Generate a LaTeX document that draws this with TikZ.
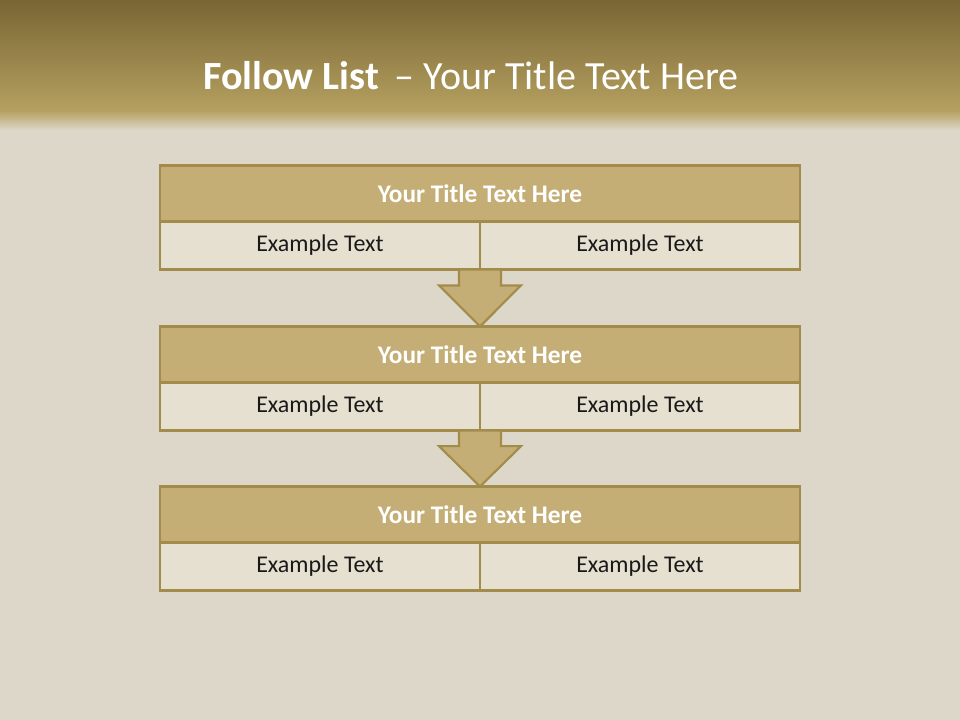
\documentclass[tikz,border=0pt]{standalone}
\usepackage{fontspec}
\setmainfont{Carlito}
\usepackage{xcolor}
\usepackage{tikz}
\usetikzlibrary{positioning,calc}
\definecolor{paper}{HTML}{DCD7C8}
\definecolor{bandtop}{HTML}{786533}
\definecolor{bandbot}{HTML}{B6A161}
\definecolor{gold}{HTML}{C4AE75}
\definecolor{goldline}{HTML}{A38B4C}
\definecolor{cellfill}{HTML}{E6E0D1}
\tikzset{
  head/.style ={draw=goldline, fill=gold, line width=2.2pt, outer sep=0pt, minimum width=480pt, minimum height=42pt, inner sep=0pt, font=\fontsize{19}{22}\selectfont\bfseries, text=white},
  cell/.style ={draw=goldline, fill=cellfill, line width=2.2pt, outer sep=0pt, minimum width=240pt, minimum height=36pt, inner sep=0pt, font=\fontsize{18}{21}\selectfont, text=black!90},
  blk/.style  ={fill=gold, draw=goldline, line width=1.6pt, line join=miter},
}
\newcommand{\downarrowblk}[2]{%
  \path[blk] ($(#1)+(-21,0)$) -- ($(#1)!0.28!(#2)+(-21,0)$) -- ($(#1)!0.28!(#2)+(-41,0)$)
    -- (#2) -- ($(#1)!0.28!(#2)+(41,0)$) -- ($(#1)!0.28!(#2)+(21,0)$) -- ($(#1)+(21,0)$) -- cycle;}

\begin{document}
\begin{tikzpicture}[x=0.75pt, y=-0.75pt]
        % page and header band
        \fill[paper] (0,0) rectangle (960,720);
        \shade[top color=bandtop, bottom color=bandbot] (0,0) rectangle (960,112);
        \shade[top color=bandbot, bottom color=paper] (0,111) rectangle (960,130);
        \useasboundingbox (0,0) rectangle (960,720);
        \node[font=\fontsize{30}{34}\selectfont, text=white] (ttl) at (471,76) {\textbf{Follow List}\, – Your Title Text Here};

        % first block
        \node[head] (h1) at (480,193.5) {Your Title Text Here};
        \node[cell, anchor=north east] (a1) at (h1.south) {Example Text};
        \node[cell, anchor=north west] (b1) at (h1.south) {Example Text};
        % second block
        \node[head] (h2) at (480,354.5) {Your Title Text Here};
        \node[cell, anchor=north east] (a2) at (h2.south) {Example Text};
        \node[cell, anchor=north west] (b2) at (h2.south) {Example Text};
        % third block
        \node[head] (h3) at (480,514.5) {Your Title Text Here};
        \node[cell, anchor=north east] (a3) at (h3.south) {Example Text};
        \node[cell, anchor=north west] (b3) at (h3.south) {Example Text};

        \coordinate (s1) at (a1.south east);
        \coordinate (s2) at (a2.south east);
        \downarrowblk{s1}{h2.north}
        \downarrowblk{s2}{h3.north}
      \end{tikzpicture}
\end{document}
